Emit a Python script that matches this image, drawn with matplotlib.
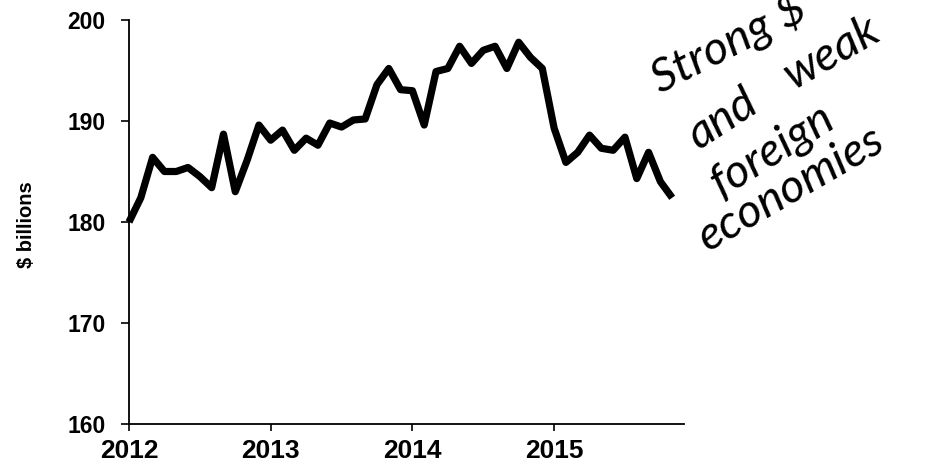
import numpy as np
import matplotlib
matplotlib.use('Agg')
import matplotlib.pyplot as plt

# monthly values, Jan 2012 .. Nov 2015 ($ billions)
values = [180.0, 182.4, 186.4, 185.0, 185.0, 185.4, 184.5, 183.4, 188.7, 183.0,
          186.1, 189.6, 188.1, 189.1, 187.1, 188.3, 187.6, 189.8, 189.4, 190.1,
          190.2, 193.6, 195.2, 193.1, 193.0, 189.6, 194.9, 195.2, 197.4, 195.7,
          197.0, 197.4, 195.2, 197.8, 196.3, 195.2, 189.3, 185.9, 186.9, 188.6,
          187.3, 187.1, 188.4, 184.3, 186.9, 184.0, 182.4]
months = np.arange(len(values))
year_ticks = [0, 12, 24, 36]
year_labels = ['2012', '2013', '2014', '2015']
y_ticks = [160, 170, 180, 190, 200]

# handwritten note, word by word
note_words = ['Strong $', 'and', 'weak', 'foreign', 'economies']

W, H = 926, 470
fig = plt.figure(figsize=(W / 100, H / 100), dpi=100)
ax = fig.add_axes([129 / W, 1 - 424 / H, (684 - 129) / W, (424 - 20) / H])

ax.plot(months, values, color='black', lw=5.2, solid_joinstyle='round',
        solid_capstyle='butt', clip_on=False)

ax.set_xlim(0, 47)
ax.set_ylim(160, 200)
ax.set_xticks(year_ticks)
ax.set_xticklabels(year_labels)
ax.set_yticks(y_ticks)

for s in ['top', 'right']:
    ax.spines[s].set_visible(False)
for s in ['left', 'bottom']:
    ax.spines[s].set_linewidth(1.3)

ax.tick_params(axis='y', direction='out', length=6, width=1.2, pad=11)
ax.tick_params(axis='x', direction='out', length=5, width=1.2, pad=6)
for lab in ax.get_yticklabels():
    lab.set_fontfamily('Liberation Sans')
    lab.set_fontweight('bold')
    lab.set_fontsize(16.5)
for lab in ax.get_xticklabels():
    lab.set_fontfamily('Liberation Sans')
    lab.set_fontweight('bold')
    lab.set_fontsize(19)

fig.text(26 / W, 1 - 225 / H, '$ billions', rotation=90, ha='center', va='center',
         fontfamily='Liberation Sans', fontweight='bold', fontsize=14.5)

# baseline anchor of each word (first one left-anchored, others centred)
anchors = [(660, 94), (730, 130), (838, 64), (779, 162), (798, 200)]
aligns = ['left', 'center', 'center', 'center', 'center']
angles = [27, 33, 30, 32, 30]
for txt, (px, py), ha, ang in zip(note_words, anchors, aligns, angles):
    fig.text(px / W, 1 - py / H, txt, rotation=ang, rotation_mode='anchor',
             ha=ha, va='baseline', fontsize=34, fontstyle='italic',
             fontfamily=['Lato', 'DejaVu Sans'], color='black')

fig.savefig('out.png', dpi=100)
